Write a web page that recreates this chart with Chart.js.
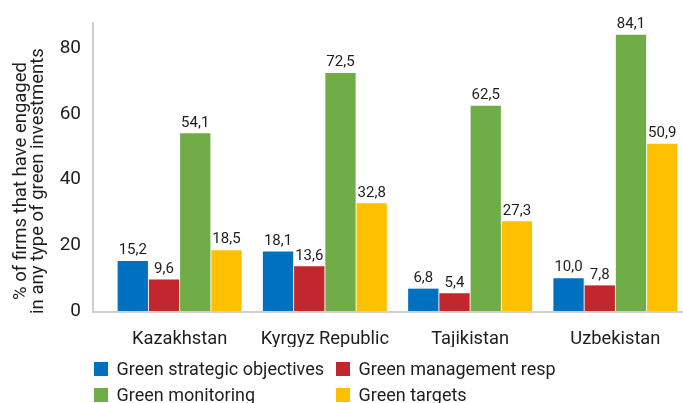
<!DOCTYPE html>
<html><head><meta charset="utf-8">
<script src="https://cdn.jsdelivr.net/npm/chart.js@4"></script>
<style>
html,body{margin:0;padding:0;overflow:hidden;background:#fff;width:683px;height:403px}
#wrap{position:absolute;left:0;top:0;width:700px;height:403px}
</style>
</head><body><div id="wrap"><canvas id="c" width="700" height="403"></canvas></div>
<script>
const categories = ['Kazakhstan', 'Kyrgyz Republic', 'Tajikistan', 'Uzbekistan'];
const seriesNames = ['Green strategic objectives', 'Green management resp', 'Green monitoring', 'Green targets'];
const strategicObjectives = [15.2, 18.1, 6.8, 10.0];
const managementResp = [9.6, 13.6, 5.4, 7.8];
const monitoring = [54.1, 72.5, 62.5, 84.1];
const targets = [18.5, 32.8, 27.3, 50.9];
const yTicks = [0, 20, 40, 60, 80];
const yTitle = ['% of firms that have engaged', 'in any type of green investments'];

const colors = ['#0070C0', '#C1272D', '#70AD47', '#FFC000'];
const FONT = 'Roboto, "Liberation Sans", sans-serif';
const TXT = '#1e1e1e';

const seriesValues = [strategicObjectives, managementResp, monitoring, targets];
const datasets = seriesValues.map((vals, i) => ({
  label: seriesNames[i],
  data: vals,
  backgroundColor: colors[i],
  borderWidth: 0,
  categoryPercentage: 0.86,
  barPercentage: 0.97
}));

const axisLines = {
  id: 'axisLines',
  afterDatasetsDraw(chart) {
    const ctx = chart.ctx, a = chart.chartArea;
    ctx.save();
    ctx.strokeStyle = '#cfcfcf';
    ctx.lineWidth = 2;
    ctx.beginPath();
    ctx.moveTo(93, a.top);
    ctx.lineTo(93, a.bottom + 1);
    ctx.lineTo(chart.width, a.bottom + 1);
    ctx.stroke();
    ctx.restore();
  }
};

const yTitlePlugin = {
  id: 'yTitlePlugin',
  afterDraw(chart) {
    const ctx = chart.ctx;
    ctx.save();
    ctx.translate(0, 181);
    ctx.rotate(-Math.PI / 2);
    ctx.font = '18.5px ' + FONT;
    ctx.fillStyle = TXT;
    ctx.textAlign = 'center';
    ctx.textBaseline = 'middle';
    const xs = [21, 38];
    yTitle.forEach((line, i) => ctx.fillText(line, 0, xs[i]));
    ctx.restore();
  }
};

const valueLabels = {
  id: 'valueLabels',
  afterDatasetsDraw(chart) {
    const ctx = chart.ctx;
    ctx.save();
    ctx.font = '15px ' + FONT;
    ctx.fillStyle = TXT;
    ctx.textAlign = 'center';
    ctx.textBaseline = 'bottom';
    chart.data.datasets.forEach((ds, i) => {
      chart.getDatasetMeta(i).data.forEach((bar, j) => {
        ctx.fillText(ds.data[j].toFixed(1).replace('.', ','), bar.x, bar.y - 3);
      });
    });
    ctx.restore();
  }
};

const customLegend = {
  id: 'customLegend',
  afterDraw(chart) {
    const ctx = chart.ctx;
    const cols = [94, 336];
    const rows = [369, 395];
    ctx.save();
    ctx.font = '18px ' + FONT;
    ctx.textBaseline = 'middle';
    ctx.textAlign = 'left';
    chart.data.datasets.forEach((ds, i) => {
      const x = cols[i % 2], y = rows[Math.floor(i / 2)];
      ctx.fillStyle = ds.backgroundColor;
      ctx.fillRect(x, y - 7, 14, 14);
      ctx.fillStyle = TXT;
      ctx.fillText(ds.label, x + 22.5, y + 1);
    });
    ctx.restore();
  }
};

new Chart(document.getElementById('c'), {
  type: 'bar',
  data: { labels: categories, datasets },
  options: {
    responsive: false,
    devicePixelRatio: 1,
    animation: false,
    layout: { padding: { top: 22, right: 12, bottom: 56, left: 0 } },
    plugins: { legend: { display: false }, tooltip: { enabled: false } },
    scales: {
      x: {
        afterFit(s) { s.height = 36; s.paddingLeft = 0; s.paddingRight = 0; },
        grid: { display: false, drawTicks: false },
        border: { display: false },
        ticks: { font: { family: FONT, size: 18.3 }, color: TXT, padding: 17 }
      },
      y: {
        min: 0, max: 88,
        afterFit(s) { s.width = 107; s.paddingTop = 0; s.paddingBottom = 0; },
        afterBuildTicks(s) { s.ticks = yTicks.map(v => ({ value: v })); },
        grid: { display: false, drawTicks: false },
        border: { display: false },
        ticks: { font: { family: FONT, size: 19 }, color: TXT, padding: 26 },
        title: { display: false }
      }
    }
  },
  plugins: [axisLines, valueLabels, customLegend, yTitlePlugin]
});
</script>
</body></html>
